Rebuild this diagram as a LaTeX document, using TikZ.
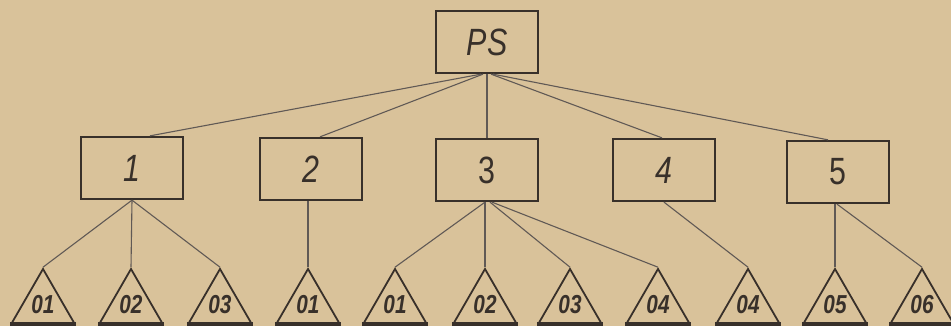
\documentclass[tikz,border=0pt]{standalone}
\usepackage{fontspec}
\usetikzlibrary{shapes.geometric,calc}
\newfontfamily\boxfont{Liberation Sans}[FakeStretch=0.8]
\definecolor{paper}{RGB}{217,194,154}
\definecolor{ink}{RGB}{56,48,42}
\tikzset{
  unit/.style={draw=ink, line width=2.3pt, minimum width=102pt, minimum height=62pt,
    inner sep=0pt, text=ink, font=\boxfont\fontsize{38}{38}\selectfont\itshape},
  part/.style={draw=ink, line width=1.8pt, regular polygon, regular polygon sides=3,
    minimum size=72pt, inner sep=0pt, text=ink,
    font=\boxfont\fontsize{26}{26}\selectfont\bfseries\itshape},
  link/.style={draw=ink!80, line width=1.1pt},
  base/.style={draw=ink, line width=3.2pt}
}
\begin{document}
\begin{tikzpicture}[x=1pt,y=-1pt]
  \fill[paper] (0,0) rectangle (951,326);
  \useasboundingbox (0,0) rectangle (951,326);

  % top level
  \node[unit] (PS) at (487,42) {PS};

  % second level
  \node[unit] (b1) at (132,168) {1};
  \node[unit] (b2) at (311,169) {2};
  \node[unit] (b3) at (487,170) {\upshape 3};
  \node[unit] (b4) at (664,170) {4};
  \node[unit] (b5) at (838,172) {\upshape 5};

  % leaf triangles
  \node[part] (t1)  at (43,305)  {01};
  \node[part] (t2)  at (131,305) {02};
  \node[part] (t3)  at (220,305) {03};
  \node[part] (t4)  at (308,305) {01};
  \node[part] (t5)  at (395,305) {01};
  \node[part] (t6)  at (485,305) {02};
  \node[part] (t7)  at (570,305) {03};
  \node[part] (t8)  at (658,305) {04};
  \node[part] (t9)  at (748,305) {04};
  \node[part] (t10) at (835,305) {05};
  \node[part] (t11) at (922,305) {06};
  \foreach \t in {t1,t2,t3,t4,t5,t6,t7,t8,t9,t10,t11}
    \draw[base] (\t.corner 2) -- (\t.corner 3);

  % links from PS
  \draw[link] ($(PS.south)+(-6,0)$) -- ($(b1.north)+(18,0)$);
  \draw[link] ($(PS.south)+(-4,0)$) -- ($(b2.north)+(9,0)$);
  \draw[link] (PS.south) -- (b3.north);
  \draw[link] ($(PS.south)+(4,0)$) -- ($(b4.north)+(-2,0)$);
  \draw[link] ($(PS.south)+(6,0)$) -- ($(b5.north)+(-10,0)$);

  % links to triangles
  \draw[link] (b1.south) -- (t1.corner 1);
  \draw[link] (b1.south) -- (t2.corner 1);
  \draw[link] (b1.south) -- (t3.corner 1);
  \draw[link] ($(b2.south)+(-3,0)$) -- (t4.corner 1);
  \draw[link] ($(b3.south)+(-2,0)$) -- (t5.corner 1);
  \draw[link] ($(b3.south)+(-2,0)$) -- (t6.corner 1);
  \draw[link] ($(b3.south)+(3,0)$) -- (t7.corner 1);
  \draw[link] ($(b3.south)+(5,0)$) -- (t8.corner 1);
  \draw[link] (b4.south) -- (t9.corner 1);
  \draw[link] ($(b5.south)+(-3,0)$) -- (t10.corner 1);
  \draw[link] ($(b5.south)+(-1,0)$) -- (t11.corner 1);
\end{tikzpicture}
\end{document}
